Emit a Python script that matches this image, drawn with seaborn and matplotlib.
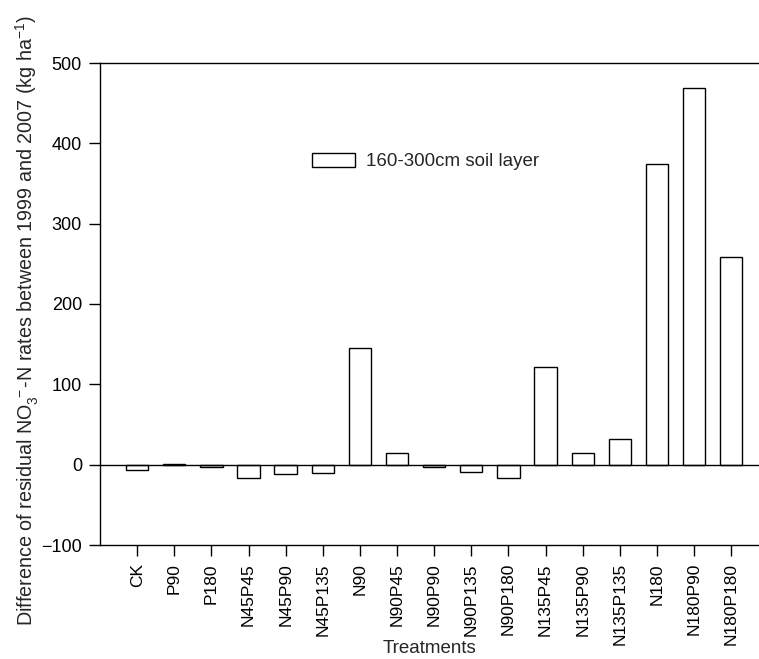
import numpy as np
import matplotlib
matplotlib.use("Agg")
import matplotlib.pyplot as plt
import seaborn as sns

# Treatments and values (kg ha-1)
treatments = ["CK", "P90", "P180", "N45P45", "N45P90", "N45P135", "N90",
              "N90P45", "N90P90", "N90P135", "N90P180", "N135P45", "N135P90",
              "N135P135", "N180", "N180P90", "N180P180"]
diff_values = [-7, 1, -3, -16, -12, -10, 145, 14.5, -3, -9, -17, 121, 15,
               32, 374, 469, 259]
legend_label = "160-300cm soil layer"

sns.set_style("ticks")
plt.rcParams["font.family"] = ["Liberation Sans", "DejaVu Sans"]
plt.rcParams["mathtext.fontset"] = "custom"
plt.rcParams["mathtext.rm"] = "Liberation Sans"
plt.rcParams["mathtext.it"] = "Liberation Sans"

fig = plt.figure(figsize=(7.59, 6.59), dpi=100)
ax = fig.add_axes([100 / 759, 1 - 545 / 659, 1 - 100 / 759, (545 - 63) / 659])

sns.barplot(x=treatments, y=diff_values, color="white", edgecolor="black",
            linewidth=1, width=0.6, saturation=1, label=legend_label, ax=ax)

ax.axhline(0, color="black", linewidth=1)
ax.set_xlim(-1, 16.75)
ax.set_ylim(-100, 500)
ax.set_yticks(np.arange(-100, 501, 100))

for side in ["left", "top", "bottom"]:
    ax.spines[side].set_linewidth(1)
    ax.spines[side].set_color("black")
ax.spines["right"].set_visible(False)

ax.tick_params(axis="both", direction="out", length=8, width=1, colors="black")
ax.tick_params(axis="y", labelsize=13, pad=5)
ax.tick_params(axis="x", labelsize=12.5, labelrotation=90, pad=5)

ax.set_xlabel("Treatments", fontsize=13.5)
ax.xaxis.set_label_coords(0.5, -0.197)
ax.set_ylabel("Difference of residual NO$_3^{\\ -}$-N rates between 1999 and 2007 (kg ha$^{-1}$)",
              fontsize=14.2)
ax.yaxis.set_label_coords(-0.09, 0.465)

ax.legend(loc="upper left", bbox_to_anchor=(312 / 759, 1 - 153 / 659),
          bbox_transform=fig.transFigure, frameon=False, fontsize=13.5,
          handlelength=2.3, handleheight=0.75, handletextpad=0.6,
          borderpad=0, borderaxespad=0)

fig.savefig("out.png", dpi=100)
